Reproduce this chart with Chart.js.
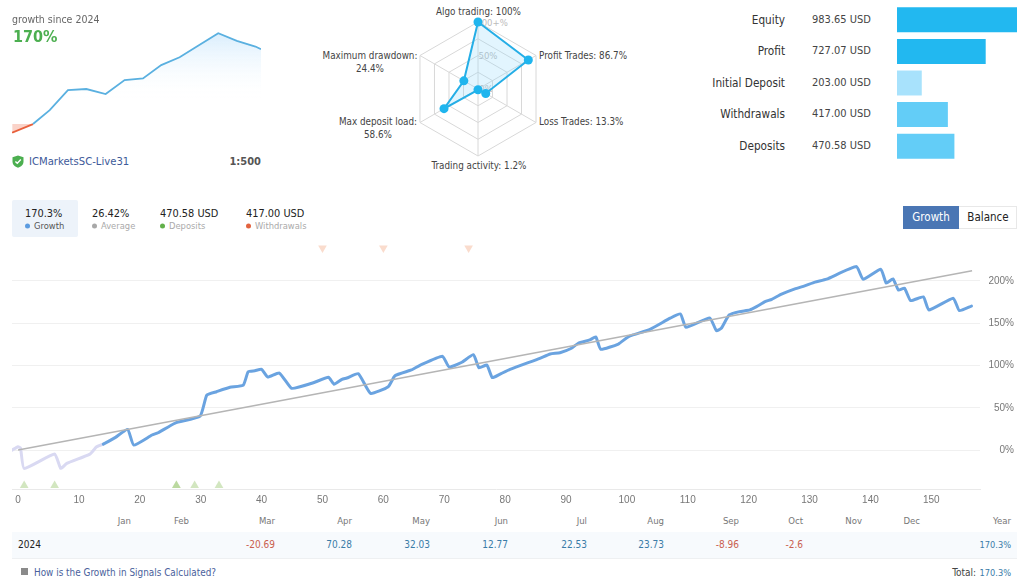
<!DOCTYPE html>
<html>
<head>
<meta charset="utf-8">
<title>Growth</title>
<script src="https://cdn.jsdelivr.net/npm/chart.js@4"></script>
<style>
  html, body { margin: 0; padding: 0; background: #fff; }
  body { width: 1024px; height: 587px; position: relative; overflow: hidden;
         font-family: "DejaVu Sans Condensed", "DejaVu Sans", sans-serif; font-size: 11px; color: #444; }
  canvas { position: absolute; }
  .t { position: absolute; white-space: nowrap; line-height: 14px; transform: translateY(-50%); }
  .r { transform: translate(-100%, -50%); }
  .c { transform: translate(-50%, -50%); text-align: center; }
  .dot { position: absolute; width: 5px; height: 5px; border-radius: 50%; transform: translateY(-50%); }
</style>
</head>
<body>
<div id="tabBg" style="position:absolute;left:12px;top:200px;width:66px;height:37px;background:#edf3fa;border-radius:2px"></div>
<div style="position:absolute;left:903px;top:206px;width:56px;height:23px;background:#4a76b4"></div>
<div style="position:absolute;left:959px;top:206px;width:57px;height:21px;border:1px solid #e8e8e8;border-left:none"></div>
<div style="position:absolute;left:12px;top:532px;width:1005px;height:26px;background:#f7fafd;border-bottom:1px solid #eef0f2"></div>
<svg style="position:absolute;left:12px;top:155px" width="12" height="13" viewBox="0 0 12 13">
  <path d="M6 0.5 L11.5 2.2 V6.5 C11.5 9.8 9 11.8 6 12.8 C3 11.8 0.5 9.8 0.5 6.5 V2.2 Z" fill="#4caf50"/>
  <path d="M3.4 6.4 L5.3 8.3 L8.8 4.6" stroke="#fff" stroke-width="1.4" fill="none"/>
</svg>
<div style="position:absolute;left:21px;top:568px;width:7px;height:7px;background:#8a8a8a"></div>

<canvas id="miniChart" style="left:12px;top:25px;width:249px;height:115px"></canvas>
<canvas id="radarChart" style="left:401px;top:12px;width:154px;height:154px;z-index:1"></canvas>
<canvas id="barChart" style="left:897px;top:4px;width:120px;height:158px"></canvas>
<canvas id="growthChart" style="left:0;top:235px;width:1024px;height:275px"></canvas>

<script>
// top left sparkline
const miniSteps = [0, 0.01, 1.13, 2.03, 3.01, 4, 5.04, 6.06, 7.05, 8.03, 9.02, 10.1, 11.1, 12.1, 13.1, 13.4];
const miniGrowth = [2, -19.8, 0, 32.5, 79, 81.4, 69.8, 102, 106, 137, 155, 184, 211, 193, 180, 174];

// radar
const radarNames = ['Algo trading: 100%', 'Profit Trades: 86.7%', 'Loss Trades: 13.3%', 'Trading activity: 1.2%', 'Max deposit load:\n58.6%', 'Maximum drawdown:\n24.4%'];
const radarValues = [100, 86.7, 13.3, 1.2, 58.6, 24.4];

// summary bars
const summaryNames = ['Equity', 'Profit', 'Initial Deposit', 'Withdrawals', 'Deposits'];
const summaryValues = [983.65, 727.07, 203.00, 417.00, 470.58];
const summaryColors = ['#22b8f0', '#22b8f0', '#a8e2fc', '#63cdf7', '#63cdf7'];

// main chart, trade number against growth %
const growthTrades = [-1, 0, 0.4, 1, 6, 7, 8, 11.8, 12.9, 14, 16, 18, 19, 22, 23, 25.8, 29.9, 31, 32.6, 34.8, 37,
  37.8, 38.9, 40, 41, 42.9, 44.9, 46.3, 48.5, 51, 51.9, 53.2, 54, 55.9, 57.9, 60.8, 61.9, 64.6, 66, 69.7, 70.8,
  72.9, 74.8, 75.7, 77, 77.9, 79.1, 80.8, 85.7, 87.4, 89, 90.9, 92, 93.9, 94.9, 95.7, 98.6, 100, 101, 103.8,
  107.1, 108.8, 109.7, 113.6, 114.7, 115.5, 116.8, 118.5, 120.2, 121.3, 122.7, 123.8, 125.4, 127.6, 129.2, 130.9,
  132.8, 137.7, 138.8, 141.7, 142.6, 143.7, 144.6, 145.6, 146.6, 148.7, 149.6, 153.6, 154.6, 156.6];
const growthPercent = [0, 3.9, 2.4, -21.7, -4.7, -21.7, -15.7, -4.7, 3.9, 7.1, 15, 24.5, 5.9, 17.8, 20.5, 32, 40.2, 65, 69, 74.2, 76.9,
  92.7, 93.8, 95.5, 86.4, 91.1, 73, 74.9, 79.6, 86, 77.8, 83.7, 85.2, 90.3, 67.1, 74.9, 87.9, 94.7, 100.2, 110.9, 98.2,
  103.8, 112.8, 97.4, 100.6, 85.6, 89.6, 95.5, 108.5, 113.6, 115.1, 120.4, 126.3, 130.2, 133.7, 119.2, 125.4, 132.9, 136.1, 142.8,
  155.9, 160.9, 145.2, 156.2, 141.2, 144, 159.8, 163.7, 165.7, 169.6, 175.5, 178.3, 184.3, 190.5, 194.1, 198.5,
  202, 216.9, 202, 213.8, 197.3, 202.4, 189.3, 191.4, 176.7, 181.1, 165.7, 179.5, 164.9, 170.3];
const trendTrades = [0, 156.7];
const trendPercent = [0, 212];
const depositTrades = [1, 6, 26, 26, 29, 33];
const withdrawalTrades = [50, 60, 74];
const xTicks = [0, 10, 20, 30, 40, 50, 60, 70, 80, 90, 100, 110, 120, 130, 140, 150];
const yTicks = [0, 50, 100, 150, 200];

// monthly table
const monthNames = ['Jan', 'Feb', 'Mar', 'Apr', 'May', 'Jun', 'Jul', 'Aug', 'Sep', 'Oct', 'Nov', 'Dec', 'Year'];
const monthValues = ['', '', '-20.69', '70.28', '32.03', '12.77', '22.53', '23.73', '-8.96', '-2.6', '', '', '170.3%'];
const monthEdges = [131, 189, 275, 352, 430, 508, 587, 664, 739, 803, 862, 920, 1011];

const tabValues = ['170.3%', '26.42%', '470.58 USD', '417.00 USD'];
const tabNames = ['Growth', 'Average', 'Deposits', 'Withdrawals'];
const tabLefts = [25, 92, 160, 246];
const tabDots = ['#5b9be0', '#a8a8a8', '#62b04a', '#e2633f'];

function label(text, x, y, style, cls) {
  const el = document.createElement('div');
  el.className = 't ' + (cls || '');
  el.style.left = x + 'px';
  el.style.top = y + 'px';
  el.style.cssText += style || '';
  el.textContent = text;
  document.body.appendChild(el);
  return el;
}

Chart.defaults.animation = false;
Chart.defaults.responsive = false;
Chart.defaults.devicePixelRatio = 1;
Chart.defaults.plugins.legend.display = false;
Chart.defaults.plugins.tooltip.enabled = false;

function sizeCanvas(id) {
  const c = document.getElementById(id);
  c.width = parseInt(c.style.width);
  c.height = parseInt(c.style.height);
  return c;
}

// sparkline
const miniCanvas = sizeCanvas('miniChart');
const miniGrad = miniCanvas.getContext('2d').createLinearGradient(0, 8, 0, 76);
miniGrad.addColorStop(0, 'rgba(205,232,252,0.75)');
miniGrad.addColorStop(1, 'rgba(255,255,255,0)');
new Chart(miniCanvas, {
  type: 'line',
  data: {
    datasets: [{
      data: miniSteps.map((x, i) => ({ x, y: miniGrowth[i] })),
      borderWidth: 1.8,
      pointRadius: 0,
      clip: false,
      fill: { target: 'origin', above: miniGrad, below: 'rgba(240,130,100,0.35)' },
      segment: {
        borderColor: ctx => ctx.p1.parsed.y < 0 && ctx.p0.parsed.y >= 0 ? 'rgba(0,0,0,0)'
          : (ctx.p0.parsed.y < 0 ? '#e8603c' : '#5ab0e0'),
      },
    }],
  },
  options: {
    layout: { padding: 0 },
    scales: {
      x: { type: 'linear', display: false, min: 0, max: 13.4 },
      y: { display: false, min: -37, max: 230 },
    },
  },
});

// radar
new Chart(sizeCanvas('radarChart'), {
  type: 'radar',
  data: {
    labels: radarNames,
    datasets: [{
      data: radarValues,
      borderColor: '#25aee6',
      borderWidth: 2,
      backgroundColor: 'rgba(140,215,250,0.25)',
      fill: true,
      pointRadius: 4.5,
      pointBackgroundColor: '#1fb5ee',
      pointBorderWidth: 0,
    }],
  },
  options: {
    layout: { padding: 10 },
    scales: {
      r: {
        min: 0,
        max: 100,
        ticks: { display: false, stepSize: 25 },
        pointLabels: { display: false },
        grid: { color: '#d8d8d8' },
        angleLines: { color: '#d8d8d8' },
      },
    },
  },
});

// summary bars
new Chart(sizeCanvas('barChart'), {
  type: 'bar',
  data: {
    labels: summaryNames,
    datasets: [{
      data: summaryValues,
      backgroundColor: summaryColors,
      barPercentage: 0.79,
      categoryPercentage: 1,
    }],
  },
  options: {
    indexAxis: 'y',
    scales: {
      x: { display: false, min: 0, max: 983.65 },
      y: { display: false },
    },
  },
});

// main growth chart
new Chart(sizeCanvas('growthChart'), {
  type: 'line',
  data: {
    datasets: [
      {
        data: withdrawalTrades.map(x => ({ x, y: 239 })),
        showLine: false,
        pointStyle: 'triangle',
        pointRotation: 180,
        pointRadius: 5,
        pointBorderWidth: 0,
        pointBackgroundColor: '#fadccd',
        clip: false,
      },
      {
        data: depositTrades.map(x => ({ x, y: -42 })),
        showLine: false,
        pointStyle: 'triangle',
        pointRadius: 5,
        pointBorderWidth: 0,
        pointBackgroundColor: 'rgba(165,205,130,0.5)',
        clip: false,
      },
      {
        data: trendTrades.map((x, i) => ({ x, y: trendPercent[i] })),
        borderColor: '#b5b5b5',
        borderWidth: 1.5,
        pointRadius: 0,
      },
      {
        data: growthTrades.map((x, i) => ({ x, y: growthPercent[i] })),
        borderWidth: 3,
        tension: 0.15,
        pointRadius: 0,
        borderJoinStyle: 'round',
        borderCapStyle: 'round',
        segment: { borderColor: ctx => ctx.p0.parsed.x < 14 ? '#d9d9f2' : '#6aa3e0' },
      },
    ],
  },
  options: {
    layout: { padding: { left: 12, top: 7, right: 10 } },
    scales: {
      x: {
        type: 'linear',
        min: -1,
        max: 158,
        afterBuildTicks: s => { s.ticks = xTicks.map(value => ({ value })); },
        afterFit: s => { s.height = 21; s.paddingLeft = 0; s.paddingRight = 0; },
        grid: { display: false, drawTicks: false },
        border: { color: '#e9e9e9' },
        ticks: { color: '#777', padding: 5, maxRotation: 0, autoSkip: false, font: { family: 'Liberation Sans', size: 10 } },
      },
      y: {
        position: 'right',
        min: -46,
        max: 246,
        afterBuildTicks: s => { s.ticks = yTicks.map(value => ({ value })); },
        afterFit: s => { s.width = 34; s.paddingTop = 0; s.paddingBottom = 0; },
        grid: { color: '#f0f0f0', drawTicks: false },
        border: { display: false },
        ticks: { color: '#777', padding: 8, crossAlign: 'far', callback: v => v + '%', font: { family: 'Liberation Sans', size: 10 } },
      },
    },
  },
});

// text around the charts
label('growth since 2024', 12, 19, 'color:#666;font-size:10.5px');
label('170%', 13, 37, 'color:#4caf50;font-size:16px;font-weight:bold;line-height:22px');
label('ICMarketsSC-Live31', 29, 162, 'color:#3d5a99;font-size:11.2px');
label('1:500', 261, 162, 'color:#555;font-size:11px;font-weight:bold', 'r');

// radar labels
const radarFont = 'color:#444;font-size:9.8px';
label(radarNames[0], 478.5, 12, radarFont, 'c');
label(radarNames[1], 539, 56, radarFont);
label(radarNames[2], 539, 122, radarFont);
label(radarNames[3], 479, 166, radarFont, 'c');
radarNames[4].split('\n').forEach((s, i) => label(s, 378, 122 + i * 12.5, radarFont, 'c'));
radarNames[5].split('\n').forEach((s, i) => label(s, 370, 56 + i * 12.5, radarFont, 'c'));
label('100+%', 492, 23, 'color:#bbb;font-size:9.5px', 'c');
label('50%', 488, 56, 'color:#bbb;font-size:9.5px', 'c');
label('0%', 486, 89, 'color:#bbb;font-size:9.5px', 'c');

// bar labels
summaryNames.forEach((name, i) => {
  const y = 19.5 + i * 31.6;
  label(name, 785, y, 'color:#333;font-size:11.7px', 'r');
  label(summaryValues[i].toFixed(2) + ' USD', 812, y, 'color:#444;font-size:11px');
});

// tabs
tabNames.forEach((name, i) => {
  label(tabValues[i], tabLefts[i], 214, 'color:#222;font-size:10.9px');
  const d = document.createElement('div');
  d.className = 'dot';
  d.style.cssText += 'left:' + tabLefts[i] + 'px;top:225.5px;background:' + tabDots[i];
  document.body.appendChild(d);
  label(name, tabLefts[i] + 9, 225.5, 'font-size:9.3px;color:' + (i === 0 ? '#555' : '#aaa'));
});
label('Growth', 931, 217, 'color:#fff;font-size:11.5px', 'c');
label('Balance', 988, 217, 'color:#222;font-size:11.5px', 'c');

// monthly table
monthNames.forEach((name, i) => {
  label(name, monthEdges[i], 521, 'color:#777;font-size:9.5px', 'r');
  if (!monthValues[i]) return;
  const color = monthValues[i][0] === '-' ? '#c9604f' : '#3a7ca8';
  const size = monthValues[i].endsWith('%') ? 9.2 : 10;
  label(monthValues[i], monthEdges[i], 545, 'font-size:' + size + 'px;color:' + color, 'r');
});
label('2024', 18, 545, 'color:#222;font-size:10px');
label('How is the Growth in Signals Calculated?', 34, 573, 'color:#4a5f9c;font-size:9.9px');
label('Total:', 976, 573, 'color:#444;font-size:10px', 'r');
label('170.3%', 1011, 573, 'color:#3a7ca8;font-size:9.2px', 'r');
</script>
</body>
</html>
